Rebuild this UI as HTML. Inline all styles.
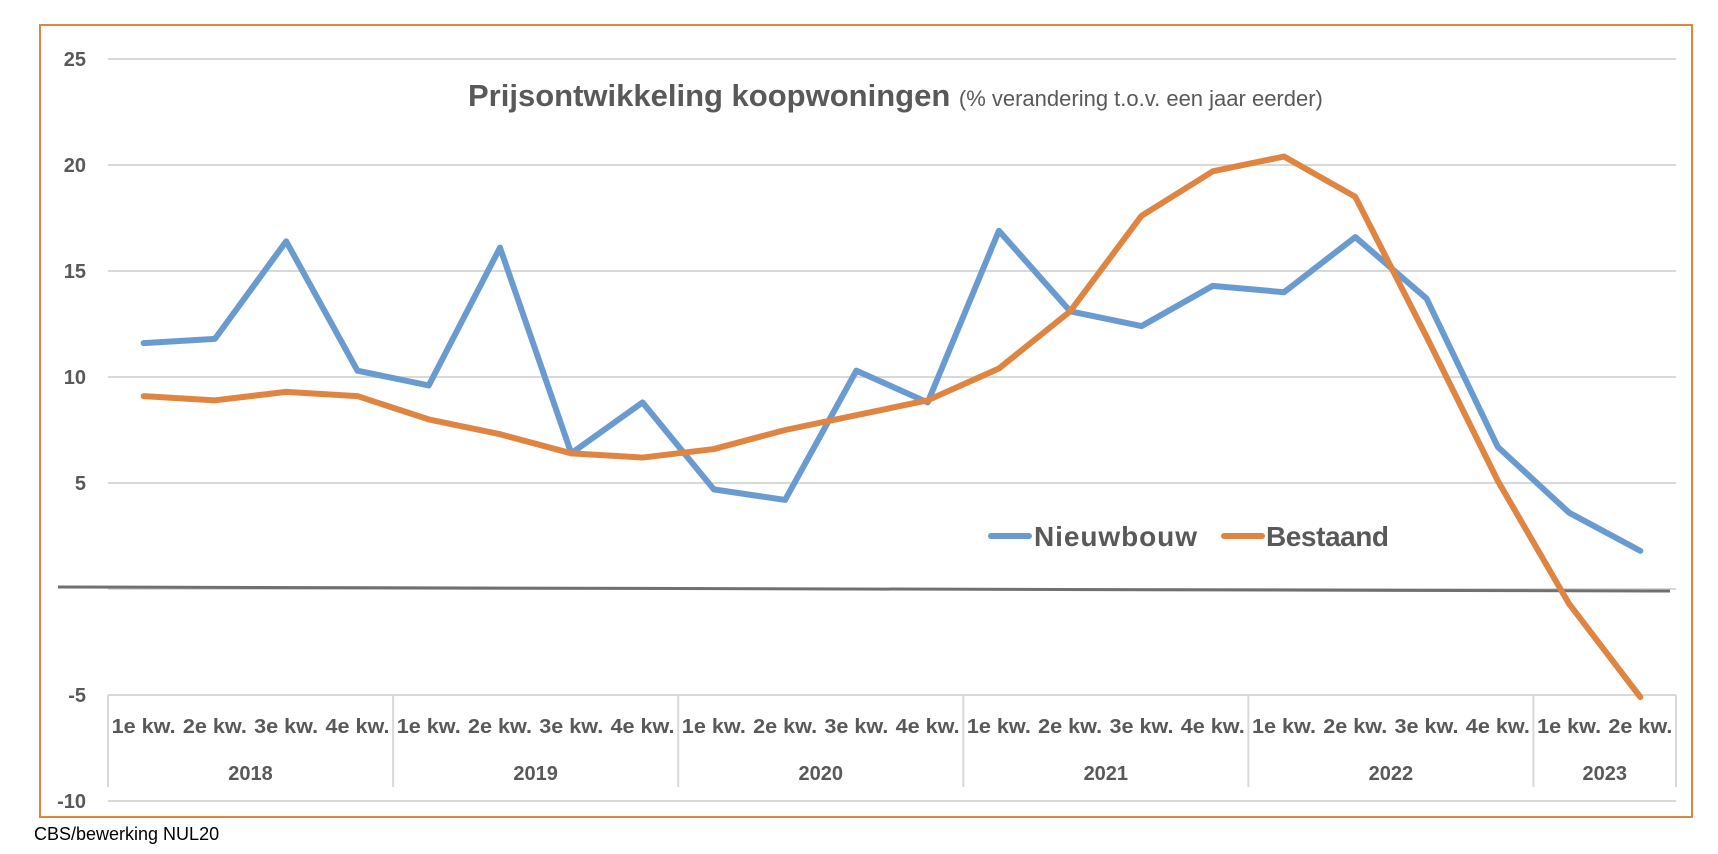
<!DOCTYPE html>
<html><head><meta charset="utf-8"><style>
html,body{margin:0;padding:0;background:#fff;}
svg{display:block;font-family:"Liberation Sans",sans-serif;}
</style></head><body>
<svg id="chart" width="1718" height="854" viewBox="0 0 1718 854">
<rect x="40" y="25" width="1652" height="792" fill="#fff" stroke="#e08442" stroke-width="2"/>
<g id="grid"></g>
<g id="yticks"></g>
<g id="xaxis"></g>
<line id="zero" x1="58" y1="587" x2="1670" y2="591" stroke="#707070" stroke-width="3"/>
<g id="series"></g>
<text x="468" y="106" font-size="31" font-weight="bold" fill="#595959">Prijsontwikkeling koopwoningen <tspan font-size="22" font-weight="normal">(% verandering t.o.v. een jaar eerder)</tspan></text>
<g>
<g>
<line x1="991" y1="536" x2="1029" y2="536" stroke="#6a9bd0" stroke-width="6" stroke-linecap="round"/>
<text x="1034" y="546" font-size="28" font-weight="bold" fill="#595959" textLength="163">Nieuwbouw</text></g>
<g>
<line x1="1224" y1="536" x2="1262" y2="536" stroke="#e08442" stroke-width="6" stroke-linecap="round"/>
<text x="1266" y="546" font-size="28" font-weight="bold" fill="#595959" textLength="123">Bestaand</text></g>
</g>
<text x="34" y="840" font-size="18" fill="#000">CBS/bewerking NUL20</text>
</svg>
<script>
const years = ["2018","2019","2020","2021","2022","2023"];
const quarters = ["1e kw.","2e kw.","3e kw.","4e kw."];
const quartersPerYear = [4,4,4,4,4,2];
const nieuwbouw = [11.6,11.8,16.4,10.3,9.6,16.1,6.4,8.8,4.7,4.2,10.3,8.8,16.9,13.1,12.4,14.3,14.0,16.6,13.7,6.7,3.6,1.8];
const bestaand = [9.1,8.9,9.3,9.1,8.0,7.3,6.4,6.2,6.6,7.5,8.2,8.9,10.4,13.1,17.6,19.7,20.4,18.5,11.9,5.1,-0.7,-5.1];
const yTicks = [25,20,15,10,5,0,-5,-10];
const yTickLabels = ["25","20","15","10","5","","-5","-10"];

const NS="http://www.w3.org/2000/svg";
const left=108, right=1676, nCat=nieuwbouw.length, cw=(right-left)/nCat;
const yTop=59, yBot=801, yMax=25, yMin=-10;
function y(v){return yTop+(yMax-v)*(yBot-yTop)/(yMax-yMin);}
function xc(i){return left+cw*(i+0.5);}
function mk(tag,attrs,parent){const e=document.createElementNS(NS,tag);for(const k in attrs)e.setAttribute(k,attrs[k]);parent.appendChild(e);return e;}
const grid=document.getElementById('grid'), yt=document.getElementById('yticks'), xa=document.getElementById('xaxis'), se=document.getElementById('series');
yTicks.forEach((t,i)=>{
  const l=mk('line',{x1:left,x2:right,y1:y(t),y2:y(t),stroke:'#d9d9d9','stroke-width':2},grid);
  
  
  if(yTickLabels[i]){
    const tx=mk('text',{x:86,y:y(t)+7,'text-anchor':'end','font-size':20,'font-weight':'bold',fill:'#595959'},yt);
    tx.textContent=yTickLabels[i];
    
    
  }
});
let idx=0;
const boxTop=y(-5), boxBot=787;
const lb=mk('line',{x1:left,x2:left,y1:boxTop,y2:boxBot,stroke:'#d9d9d9','stroke-width':2},xa);


years.forEach((yr,g)=>{
  const n=quartersPerYear[g], x0=left+idx*cw, x1=x0+n*cw;
  for(let q=0;q<n;q++){
    const t=mk('text',{x:xc(idx+q),y:733,'text-anchor':'middle','font-size':20,'font-weight':'bold',fill:'#595959',textLength:64,lengthAdjust:'spacingAndGlyphs'},xa);
    t.textContent=quarters[q];
    
    
  }
  const yl=mk('text',{x:(x0+x1)/2,y:780,'text-anchor':'middle','font-size':20,'font-weight':'bold',fill:'#595959'},xa);
  yl.textContent=yr;
  
  
  const d=mk('line',{x1:x1,x2:x1,y1:boxTop,y2:boxBot,stroke:'#d9d9d9','stroke-width':2},xa);
  
  
  idx+=n;
});
function drawLine(vals,color,name){
  const p=mk('polyline',{points:vals.map((v,i)=>xc(i)+','+y(v)).join(' '),fill:'none',stroke:color,'stroke-width':6,'stroke-linejoin':'round','stroke-linecap':'round'},se);
  
  
}
drawLine(nieuwbouw,'#6a9bd0','line-nieuwbouw');
drawLine(bestaand,'#e08442','line-bestaand');
</script>
</body></html>
